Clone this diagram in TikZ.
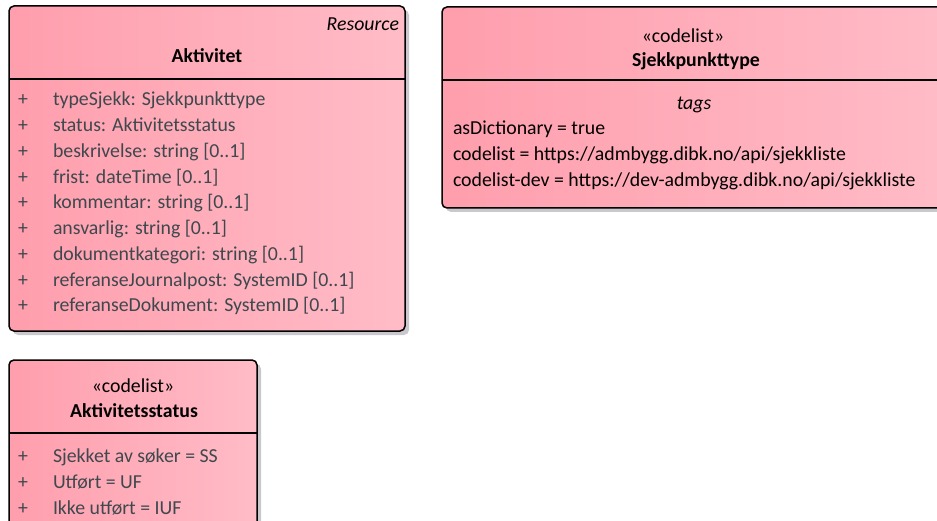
\documentclass[tikz,border=0pt]{standalone}
\usepackage{fontspec}
\setmainfont{Carlito}
\definecolor{pinkL}{RGB}{255,158,173}
\definecolor{pinkR}{RGB}{255,188,199}
\definecolor{shadowgray}{RGB}{200,200,205}
\definecolor{attrgray}{RGB}{62,72,78}
\begin{document}
\begin{tikzpicture}[x=1pt,y=-1pt,
  every node/.style={inner sep=0pt, outer sep=0pt, font=\fontsize{19.8}{24}\selectfont},
  txt/.style={yshift=-3.5pt},
  attr/.style={txt, anchor=mid west, text=attrgray},
  plus/.style={txt, anchor=mid, text=attrgray},
  classname/.style={txt, anchor=mid, font=\fontsize{19.8}{24}\selectfont\bfseries},
  stereo/.style={txt, anchor=mid},
  tagline/.style={txt, anchor=mid west},
  boxshadow/.style={fill=shadowgray, rounded corners=5pt, anchor=north west},
  boxbody/.style={draw=black, line width=1.5pt, rounded corners=5pt, anchor=north west,
                  left color=pinkL, right color=pinkR},
  divider/.style={draw=black, line width=1.3pt}]

\useasboundingbox (0,0) rectangle (937,521);
\clip (0,0) rectangle (937,521);

% ---------- Aktivitet ----------
\node[boxshadow, minimum width=396pt, minimum height=325pt] (aktShadow) at (13,10) {};
\node[boxbody, minimum width=396pt, minimum height=325pt] (aktBox) at (9,6) {};
\coordinate (aktDiv) at (0,79);
\draw[divider] (aktBox.west |- aktDiv) -- (aktBox.east |- aktDiv);
\node[txt, anchor=mid east, font=\fontsize{19.8}{24}\selectfont\itshape] (aktRes) at (399,25) {Resource};
\node[classname] (aktName) at (207,57) {Aktivitet};
\foreach \t [count=\i] in {
  {typeSjekk: Sjekkpunkttype},
  {status: Aktivitetsstatus},
  {beskrivelse: string [0..1]},
  {frist: dateTime [0..1]},
  {kommentar: string [0..1]},
  {ansvarlig: string [0..1]},
  {dokumentkategori: string [0..1]},
  {referanseJournalpost: SystemID [0..1]},
  {referanseDokument: SystemID [0..1]}} {
  \node[plus] (aktPlus\i) at (23,{100+25.75*(\i-1)}) {+};
  \node[attr] (aktAttr\i) at (53,{100+25.75*(\i-1)}) {\t};
}

% ---------- Sjekkpunkttype ----------
\node[boxshadow, minimum width=508pt, minimum height=201pt] (sjkShadow) at (446,11) {};
\node[boxbody, minimum width=508pt, minimum height=201pt] (sjkBox) at (442,7) {};
\coordinate (sjkDiv) at (0,80);
\draw[divider] (sjkBox.west |- sjkDiv) -- (sjkBox.east |- sjkDiv);
\node[stereo] (sjkStereo) at (683,37) {«codelist»};
\node[classname] (sjkName) at (696,61) {Sjekkpunkttype};
\node[txt, anchor=mid, font=\fontsize{19.8}{24}\selectfont\itshape] (sjkTags) at (694,104) {tags};
\node[tagline] (sjkTag1) at (453,129) {asDictionary = true};
\node[tagline] (sjkTag2) at (453,155) {codelist = https://admbygg.dibk.no/api/sjekkliste};
\node[tagline] (sjkTag3) at (453,181) {codelist-dev = https://dev-admbygg.dibk.no/api/sjekkliste};

% ---------- Aktivitetsstatus ----------
\node[boxshadow, minimum width=248pt, minimum height=200pt] (staShadow) at (13,364) {};
\node[boxbody, minimum width=248pt, minimum height=200pt] (staBox) at (9,360) {};
\coordinate (staDiv) at (0,433);
\draw[divider] (staBox.west |- staDiv) -- (staBox.east |- staDiv);
\node[stereo] (staStereo) at (133,387) {«codelist»};
\node[classname] (staName) at (134,412) {Aktivitetsstatus};
\foreach \t [count=\i] in {
  {Sjekket av søker = SS},
  {Utført = UF},
  {Ikke utført = IUF}} {
  \node[plus] (staPlus\i) at (23,{457+26*(\i-1)}) {+};
  \node[attr] (staAttr\i) at (53,{457+26*(\i-1)}) {\t};
}
\end{tikzpicture}
\end{document}
